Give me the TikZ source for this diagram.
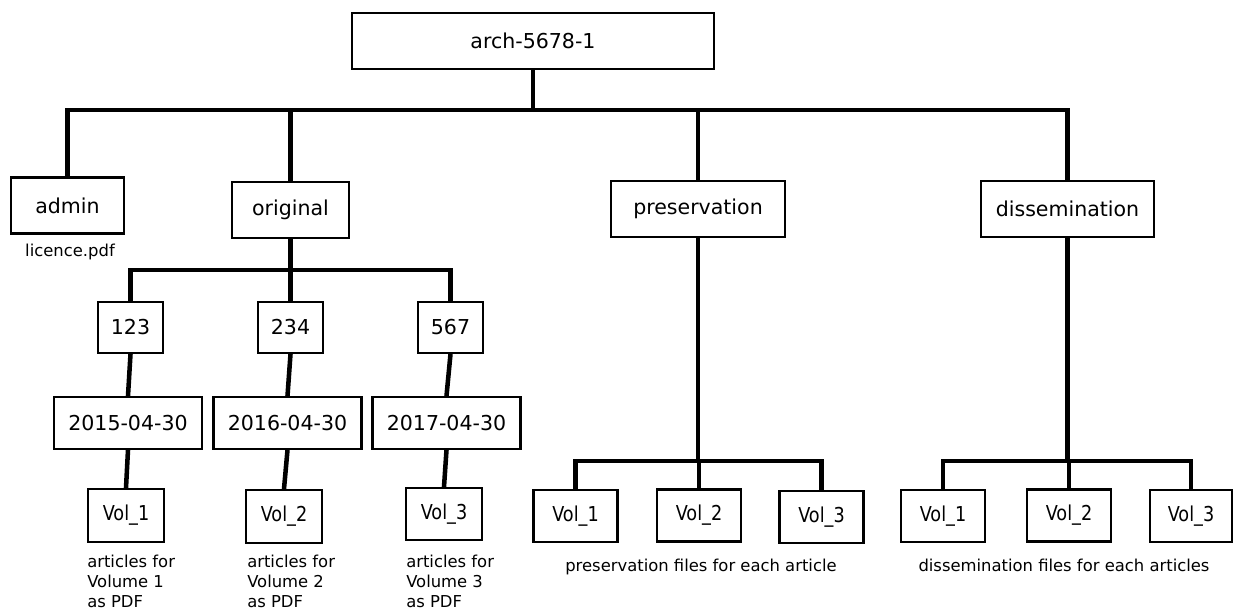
\documentclass[tikz,border=0pt]{standalone}
\usepackage{fontspec}
\setmainfont{DejaVu Sans}
\newfontfamily\narrowfont{DejaVu Sans}[FakeStretch=0.86]
\usepackage{color}
\usepackage{xcolor}
\usepackage{tikz}
\usetikzlibrary{shapes,arrows,positioning}
\tikzstyle{block} = [rectangle, draw, line width=1.6pt, fill=white, inner sep=0pt, minimum height=42pt, font=\fontsize{15.4}{18}\selectfont]
\tikzstyle{numbox} = [block, minimum width=48.75pt, minimum height=38.25pt]
\tikzstyle{datebox} = [block, minimum width=111pt, minimum height=39pt]
\tikzstyle{volbox} = [block, minimum width=57pt, minimum height=39.75pt, font=\narrowfont\fontsize{15.4}{18}\selectfont]
\tikzstyle{filebox} = [volbox, minimum width=63pt, minimum height=39pt]
\tikzstyle{line} = [draw, line width=3.4pt, line join=miter]
\tikzstyle{note} = [inner sep=0pt, font=\fontsize{12.3}{15}\selectfont]

\begin{document}
\begin{tikzpicture}[x=0.75pt, y=-0.75pt]
\useasboundingbox (0,0) rectangle (1233,612);

            \node[block, minimum width=271.5pt] (arch) at (533,41) {arch-5678-1};

            \node[block, minimum width=84.75pt] (admin) at (67.5,205.5) {admin};
            \node[block, minimum width=87.75pt] (original) at (290.5,210) {original};
            \node[block, minimum width=130.5pt] (preservation) at (698,209) {preservation};
            \node[block, minimum width=129.75pt] (dissemination) at (1067.5,209) {dissemination};

            \node[note, anchor=base] (licence) at (70,256) {licence.pdf};

            % original
            \node[numbox] (id123) at (130.5,327.5) {123};
            \node[numbox] (id234) at (290.5,327.5) {234};
            \node[numbox] (id567) at (450.5,327.5) {567};

            \node[datebox] (date2015) at (128,423) {2015-04-30};
            \node[datebox] (date2016) at (287.5,423) {2016-04-30};
            \node[datebox] (date2017) at (446.5,423) {2017-04-30};

            \node[volbox] (ovol1) at (126,515.5) {Vol\_1};
            \node[volbox] (ovol2) at (284,516.5) {Vol\_2};
            \node[volbox, minimum height=39pt] (ovol3) at (444,514) {Vol\_3};

            \node[note, anchor=north west, align=left] (onote1) at (87,555) {articles for\\Volume 1\\as PDF};
            \node[note, anchor=north west, align=left] (onote2) at (247,555) {articles for\\Volume 2\\as PDF};
            \node[note, anchor=north west, align=left] (onote3) at (406,555) {articles for\\Volume 3\\as PDF};

            % preservation
            \node[filebox] (pvol1) at (575.5,516) {Vol\_1};
            \node[filebox] (pvol2) at (699,515.5) {Vol\_2};
            \node[filebox] (pvol3) at (821.5,517) {Vol\_3};
            \node[note, anchor=base] (pnote) at (701,571) {preservation files for each article};

            % dissemination
            \node[filebox] (dvol1) at (943,516) {Vol\_1};
            \node[filebox] (dvol2) at (1069,515.5) {Vol\_2};
            \node[filebox, minimum width=61.5pt] (dvol3) at (1191,516) {Vol\_3};
            \node[note, anchor=base] (dnote) at (1064,571) {dissemination files for each articles};

            \coordinate (topbus) at (533,110);
            \coordinate (origbus) at (290.5,270);
            \coordinate (presbus) at (698,461);
            \coordinate (dissbus) at (1067.5,461);

            \path[line] (arch.south) -- (topbus);
            \path[line] (admin.north) |- (dissemination.north |- topbus) -- (dissemination.north);
            \path[line] (original.north) -- (original.north |- topbus);
            \path[line] (preservation.north) -- (preservation.north |- topbus);

            \path[line] (original.south) -- (origbus);
            \path[line] (id123.north) |- (origbus) -| (id567.north);
            \path[line] (id234.north) -- (id234.north |- origbus);
            \path[line] (id123.south) -- (date2015.north);
            \path[line] (id234.south) -- (date2016.north);
            \path[line] (id567.south) -- (date2017.north);
            \path[line] (date2015.south) -- (ovol1.north);
            \path[line] (date2016.south) -- (ovol2.north);
            \path[line] (date2017.south) -- (ovol3.north);

            \path[line] (preservation.south) -- (presbus);
            \path[line] (pvol1.north) |- (presbus) -| (pvol3.north);
            \path[line] (pvol2.north) -- (pvol2.north |- presbus);

            \path[line] (dissemination.south) -- (dissbus);
            \path[line] (dvol1.north) |- (dissbus) -| (dvol3.north);
            \path[line] (dvol2.north) -- (dvol2.north |- dissbus);

        \end{tikzpicture}
\end{document}
